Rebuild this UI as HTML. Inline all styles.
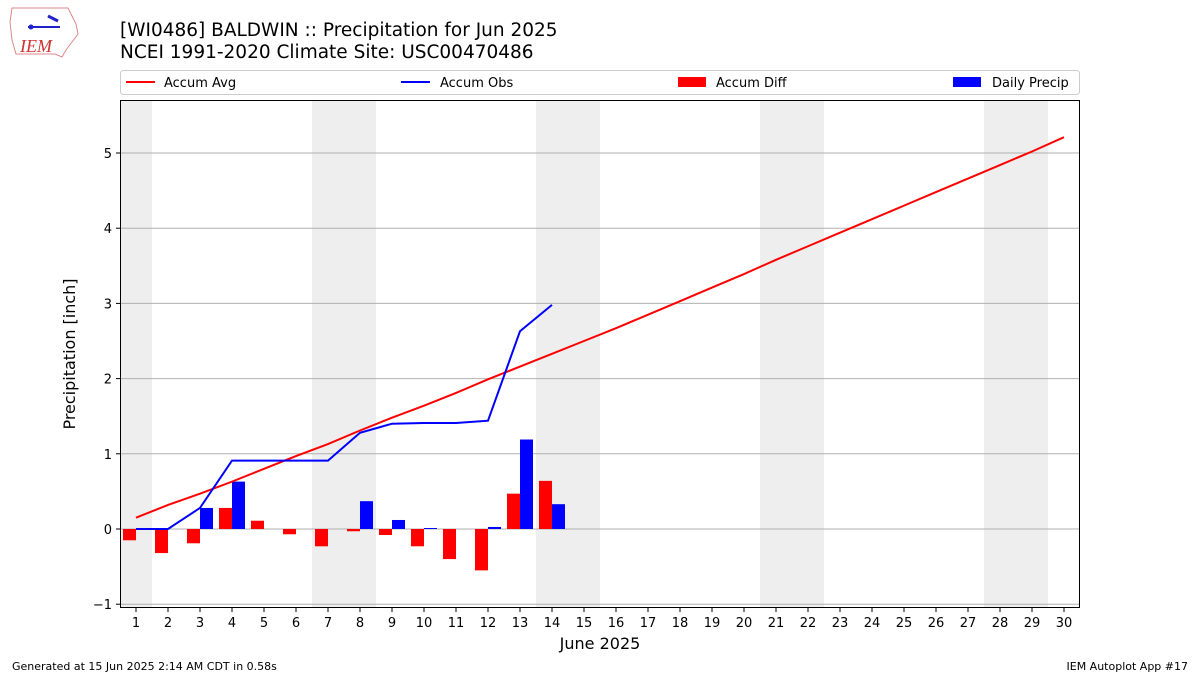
<!DOCTYPE html>
<html><head><meta charset="utf-8">
<style>
body{margin:0;background:#fff;font-family:"Liberation Sans","DejaVu Sans",sans-serif;}
#wrap{position:relative;width:1200px;height:675px;overflow:hidden;}
svg text{font-family:"DejaVu Sans","Liberation Sans",sans-serif;}
</style></head><body>
<div id="wrap">
<svg id="chart" width="1200" height="675" xmlns="http://www.w3.org/2000/svg">
 <g>
  <path d="M12,8 L68,8 L72,16 L76,24 L78,34 L72,42 L66,50 L62,57 L55,54 L16,54 L12,40 L10,22 Z" fill="none" stroke="#d88" stroke-width="1"/>
  <line x1="28" y1="27" x2="60" y2="27" stroke="#22c" stroke-width="2"/>
  <circle cx="31" cy="27" r="2.5" fill="#22c"/>
  <path d="M48,16 L58,21" stroke="#22c" stroke-width="3"/>
  <text x="20" y="52" fill="#c33" style="font-family:'Liberation Serif',serif;font-style:italic;font-size:18px">IEM</text>
 </g>
 <text x="120" y="36" font-size="18.5" fill="#000">[WI0486] BALDWIN :: Precipitation for Jun 2025</text>
 <text x="120" y="58" font-size="18.5" fill="#000">NCEI 1991-2020 Climate Site: USC00470486</text>
 <g id="legend">
  <rect x="120.5" y="70.5" width="959" height="24" rx="3" fill="#fff" stroke="#ccc"/>
  <line x1="126" y1="82" x2="155" y2="82" stroke="#f00" stroke-width="2"/>
  <text x="164" y="87" font-size="13">Accum Avg</text>
  <line x1="401" y1="82" x2="430" y2="82" stroke="#00f" stroke-width="2"/>
  <text x="440" y="87" font-size="13">Accum Obs</text>
  <rect x="678" y="77" width="28" height="10" fill="#f00"/>
  <text x="716" y="87" font-size="13">Accum Diff</text>
  <rect x="953" y="77" width="28" height="10" fill="#00f"/>
  <text x="992" y="87" font-size="13">Daily Precip</text>
 </g>
 <g id="plot"></g>
 <text x="75" y="354" font-size="16" text-anchor="middle" transform="rotate(-90 75 354)">Precipitation [inch]</text>
 <text x="600" y="649" font-size="16" text-anchor="middle">June 2025</text>
 <text x="12" y="670" font-size="11">Generated at 15 Jun 2025 2:14 AM CDT in 0.58s</text>
 <text x="1188" y="670" font-size="11" text-anchor="end">IEM Autoplot App #17</text>
</svg>
</div>
<script>
const days = [1,2,3,4,5,6,7,8,9,10,11,12,13,14,15,16,17,18,19,20,21,22,23,24,25,26,27,28,29,30];
const accumAvg = [0.15,0.32,0.47,0.63,0.80,0.97,1.13,1.31,1.48,1.64,1.81,1.99,2.16,2.33,2.50,2.67,2.85,3.03,3.21,3.39,3.58,3.76,3.94,4.12,4.30,4.48,4.66,4.84,5.02,5.21];
const accumObs = [0,0,0.28,0.91,0.91,0.91,0.91,1.28,1.40,1.41,1.41,1.44,2.63,2.98];
const accumDiff = [-0.15,-0.32,-0.19,0.28,0.11,-0.07,-0.23,-0.03,-0.08,-0.23,-0.40,-0.55,0.47,0.64];
const dailyPrecip = [0,0,0.28,0.63,0,0,0,0.37,0.12,0.013,0,0.027,1.19,0.33];
const weekendDays = [1,7,8,14,15,21,22,28,29];
const yTicks = [-1,0,1,2,3,4,5];

const NS="http://www.w3.org/2000/svg";
const L=120,R=1080,T=100,B=608;
const xs=d=>136+(d-1)*(1064-136)/29;
const ys=v=>529-v*75.2;
const g=document.getElementById('plot');
function mk(tag,attrs){const e=document.createElementNS(NS,tag);for(const k in attrs)e.setAttribute(k,attrs[k]);g.appendChild(e);return e;}
const dw=xs(2)-xs(1);
weekendDays.forEach(d=>{
 const r=mk('rect',{x:xs(d)-dw/2,y:T,width:dw,height:B-T,fill:'#eee'});
 
 
});
yTicks.forEach(v=>{
 const l=mk('line',{x1:L,x2:R,y1:ys(v),y2:ys(v),stroke:'#b0b0b0','stroke-width':1});
 
 
 const t=mk('line',{x1:L-4,x2:L,y1:ys(v),y2:ys(v),stroke:'#000'});
 
 
 const tx=mk('text',{x:L-8,y:ys(v)+5,'font-size':13,'text-anchor':'end'});
 tx.textContent=v===-1?'\u22121':String(v);
 
 
});
const bw=13;
accumDiff.forEach((v,i)=>{
 const y0=ys(0),y1=ys(v);
 const r=mk('rect',{x:xs(days[i])-bw,y:Math.min(y0,y1),width:bw,height:Math.abs(y1-y0),fill:'#f00'});
 
 
});
dailyPrecip.forEach((v,i)=>{
 const y0=ys(0),y1=ys(v);
 const r=mk('rect',{x:xs(days[i]),y:Math.min(y0,y1),width:bw,height:Math.abs(y1-y0),fill:'#00f'});
 
 
});
const pa=mk('polyline',{points:accumAvg.map((v,i)=>xs(days[i])+','+ys(v)).join(' '),fill:'none',stroke:'#f00','stroke-width':2});


const po=mk('polyline',{points:accumObs.map((v,i)=>xs(days[i])+','+ys(v)).join(' '),fill:'none',stroke:'#00f','stroke-width':2});


days.forEach(d=>{
 const t=mk('line',{x1:xs(d),x2:xs(d),y1:B,y2:B+4,stroke:'#000'});
 
 
 const tx=mk('text',{x:xs(d),y:B+19,'font-size':13,'text-anchor':'middle'});
 tx.textContent=String(d);
 
 
});
const fr=mk('rect',{x:L+0.5,y:T+0.5,width:R-L-1,height:B-T-1,fill:'none',stroke:'#000','stroke-width':1});


</script>
</body></html>
